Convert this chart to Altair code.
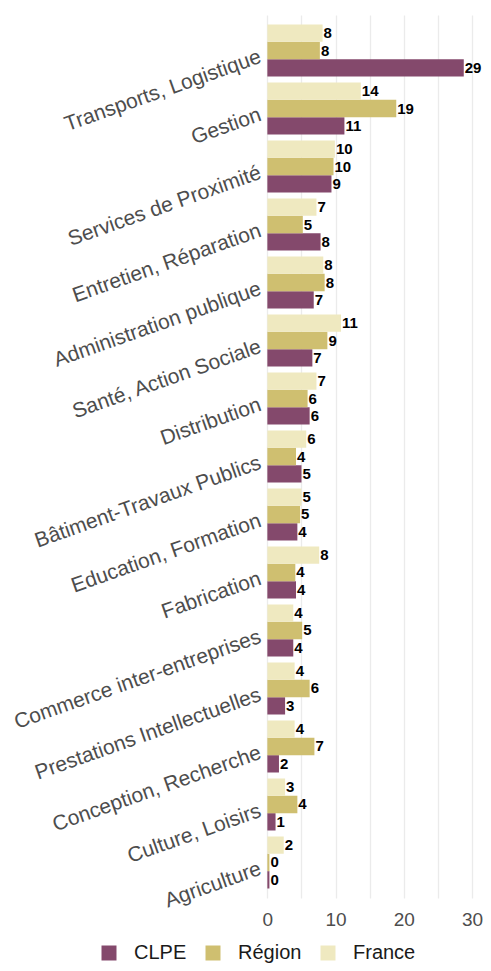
import altair as alt
import pandas as pd

categories = ["Transports, Logistique", "Gestion", "Services de Proximité",
              "Entretien, Réparation", "Administration publique",
              "Santé, Action Sociale", "Distribution", "Bâtiment-Travaux Publics",
              "Education, Formation", "Fabrication", "Commerce inter-entreprises",
              "Prestations Intellectuelles", "Conception, Recherche",
              "Culture, Loisirs", "Agriculture"]
series = ["CLPE", "Région", "France"]
clpe = [28.8, 11.3, 9.4, 7.8, 6.8, 6.6, 6.2, 5.0, 4.4, 4.2, 3.8, 2.6, 1.7, 1.2, 0.3]
region = [7.7, 18.9, 9.7, 5.2, 8.4, 8.8, 5.9, 4.2, 4.8, 4.1, 5.1, 6.2, 6.9, 4.4, 0.3]
france = [8.1, 13.7, 9.9, 7.2, 8.2, 10.8, 7.2, 5.7, 5.0, 7.6, 3.8, 4.0, 4.0, 2.6, 2.4]
colors = ["#84496c", "#cfbf70", "#efe9c0"]

rows = []
for name, vals in zip(series, [clpe, region, france]):
    for c, v in zip(categories, vals):
        rows.append({"cat": c, "serie": name, "val": v})
df = pd.DataFrame(rows)

FONT = "Liberation Sans"

base = alt.Chart(df).encode(
    y=alt.Y("cat:N", sort=categories, title=None,
            scale=alt.Scale(paddingInner=0.103, paddingOuter=0.164),
            axis=alt.Axis(domain=False, ticks=False, labelAngle=-19.5,
                          labelAlign="right", labelBaseline="middle",
                          labelFontSize=21, labelColor="#4d4d4d",
                          labelPadding=6, labelOffset=6, labelLimit=0,
                          labelFont=FONT, grid=False)),
    yOffset=alt.YOffset("serie:N", sort=["France", "Région", "CLPE"],
                        scale=alt.Scale(paddingInner=0, paddingOuter=0)),
    x=alt.X("val:Q", title=None,
            scale=alt.Scale(domain=[-0.2, 30.3], nice=False, zero=False),
            axis=alt.Axis(values=[0, 5, 10, 15, 20, 25, 30],
                          labelExpr="datum.value % 10 == 0 ? datum.label : ''",
                          domain=False, ticks=False, grid=True,
                          gridColor="#ebebeb", gridWidth=1.3,
                          labelFontSize=19, labelColor="#4d4d4d",
                          labelPadding=12, labelFont=FONT)),
)

bars = base.mark_bar().encode(
    color=alt.Color("serie:N", scale=alt.Scale(domain=series, range=colors),
                    title=None,
                    legend=alt.Legend(orient="none", legendX=-167, legendY=928,
                                      direction="horizontal", symbolType="square",
                                      symbolSize=225, symbolStrokeWidth=0,
                                      labelFontSize=20, labelColor="#1a1a1a",
                                      labelFont=FONT, labelOffset=15,
                                      columnPadding=16, padding=0))
)

labels = base.mark_text(align="left", baseline="middle", dx=1,
                        fontSize=15, fontWeight="bold", color="black",
                        font=FONT).encode(
    text=alt.Text("val:Q", format=".0f")
)

chart = alt.layer(bars, labels).properties(
    width=208, height=883,
    autosize=alt.AutoSizeParams(type="none"),
    padding={"left": 258, "top": 7, "right": 9, "bottom": 65},
    background="white",
).configure_view(stroke=None)

chart.save("out.html", embed_options={"renderer": "svg", "actions": False})
